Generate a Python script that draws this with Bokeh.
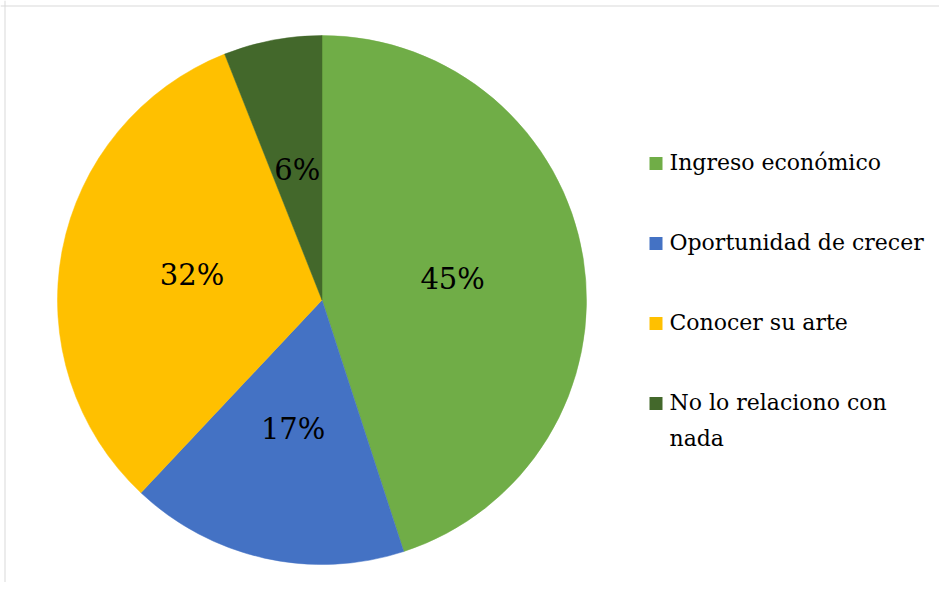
import math
from bokeh.plotting import figure
from bokeh.models import Range1d, ColumnDataSource, Span
from bokeh.core.properties import value
from bokeh.embed import file_html
from bokeh.resources import INLINE

# ---- data ----
categories = ["Ingreso económico", "Oportunidad de crecer", "Conocer su arte", "No lo relaciono con\nnada"]
percent = [45, 17, 32, 6]
labels = ["45%", "17%", "32%", "6%"]
colors = ["#70AD47", "#4472C4", "#FFC000", "#43682B"]

# ---- layout (screen-like coordinates; data y = H - screen y) ----
W, H = 939, 582
FONT = "DejaVu Serif"
cx, cy, R = 321.5, H - 299.5, 264.5

total = float(sum(percent))
starts, ends, mids = [], [], []
acc = 0.0
for v in percent:
    a0 = math.pi / 2 - acc / total * 2 * math.pi
    acc += v
    a1 = math.pi / 2 - acc / total * 2 * math.pi
    starts.append(a0)
    ends.append(a1)
    mids.append((a0 + a1) / 2)

src = ColumnDataSource(dict(
    start=starts, end=ends, color=colors, label=labels,
    lx=[cx + 0.5 * R * math.cos(m) for m in mids],
    ly=[cy + 0.5 * R * math.sin(m) for m in mids],
))

p = figure(width=W, height=H, output_backend="svg", toolbar_location=None,
           x_range=Range1d(0, W), y_range=Range1d(0, H),
           min_border=0, outline_line_color=None)
p.axis.visible = False
p.xgrid.visible = False
p.ygrid.visible = False
p.background_fill_color = "white"
p.border_fill_color = "white"

p.wedge(x=cx, y=cy, radius=R, start_angle="start", end_angle="end",
        direction="clock", fill_color="color", line_color="color",
        line_width=0.5, source=src)

p.text(x="lx", y="ly", text="label", source=src,
       text_font=value(FONT), text_font_size="29px", text_color="black",
       text_align="center", text_baseline="middle")

# legend
row_y = [H - (163 + 80 * i) for i in range(len(categories))]
leg = ColumnDataSource(dict(
    y=row_y, color=colors, text=categories,
    ty=[y + 14 for y in row_y],
))
p.rect(x=655.5, y="y", width=13, height=13, fill_color="color",
       line_color=None, source=leg)
p.text(x=669, y="ty", text="text", source=leg,
       text_font=value(FONT), text_font_size="22px", text_color="black",
       text_align="left", text_baseline="top", text_line_height=1.45)

# chart-area border (top and left visible in reference)
p.add_layout(Span(location=4.5, dimension="height", line_color="#d9d9d9", line_width=1))
p.add_layout(Span(location=H - 5.5, dimension="width", line_color="#d9d9d9", line_width=1))

open("out.html", "w").write(file_html(p, INLINE))
